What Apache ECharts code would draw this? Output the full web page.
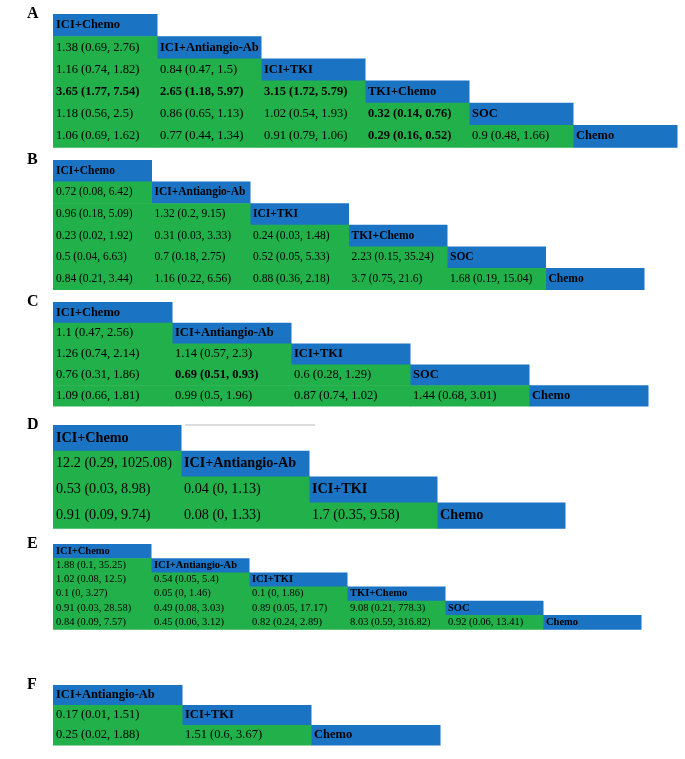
<!DOCTYPE html>
<html>
<head>
<meta charset="utf-8">
<script src="https://cdn.jsdelivr.net/npm/echarts@6/dist/echarts.min.js"></script>
<style>html,body{margin:0;padding:0;background:#fff}#chart{width:685px;height:759px}</style>
</head>
<body>
<div id="chart"></div>
<script>
// treatments for each panel (diagonal headers)
const treatA = ['ICI+Chemo', 'ICI+Antiangio-Ab', 'ICI+TKI', 'TKI+Chemo', 'SOC', 'Chemo'];
const cellsA = [
    ['1.38 (0.69, 2.76)'],
    ['1.16 (0.74, 1.82)', '0.84 (0.47, 1.5)'],
    ['*3.65 (1.77, 7.54)', '*2.65 (1.18, 5.97)', '*3.15 (1.72, 5.79)'],
    ['1.18 (0.56, 2.5)', '0.86 (0.65, 1.13)', '1.02 (0.54, 1.93)', '*0.32 (0.14, 0.76)'],
    ['1.06 (0.69, 1.62)', '0.77 (0.44, 1.34)', '0.91 (0.79, 1.06)', '*0.29 (0.16, 0.52)', '0.9 (0.48, 1.66)']
];
const treatB = ['ICI+Chemo', 'ICI+Antiangio-Ab', 'ICI+TKI', 'TKI+Chemo', 'SOC', 'Chemo'];
const cellsB = [
    ['0.72 (0.08, 6.42)'],
    ['0.96 (0.18, 5.09)', '1.32 (0.2, 9.15)'],
    ['0.23 (0.02, 1.92)', '0.31 (0.03, 3.33)', '0.24 (0.03, 1.48)'],
    ['0.5 (0.04, 6.63)', '0.7 (0.18, 2.75)', '0.52 (0.05, 5.33)', '2.23 (0.15, 35.24)'],
    ['0.84 (0.21, 3.44)', '1.16 (0.22, 6.56)', '0.88 (0.36, 2.18)', '3.7 (0.75, 21.6)', '1.68 (0.19, 15.04)']
];
const treatC = ['ICI+Chemo', 'ICI+Antiangio-Ab', 'ICI+TKI', 'SOC', 'Chemo'];
const cellsC = [
    ['1.1 (0.47, 2.56)'],
    ['1.26 (0.74, 2.14)', '1.14 (0.57, 2.3)'],
    ['0.76 (0.31, 1.86)', '*0.69 (0.51, 0.93)', '0.6 (0.28, 1.29)'],
    ['1.09 (0.66, 1.81)', '0.99 (0.5, 1.96)', '0.87 (0.74, 1.02)', '1.44 (0.68, 3.01)']
];
const treatD = ['ICI+Chemo', 'ICI+Antiangio-Ab', 'ICI+TKI', 'Chemo'];
const cellsD = [
    ['12.2 (0.29, 1025.08)'],
    ['0.53 (0.03, 8.98)', '0.04 (0, 1.13)'],
    ['0.91 (0.09, 9.74)', '0.08 (0, 1.33)', '1.7 (0.35, 9.58)']
];
const treatE = ['ICI+Chemo', 'ICI+Antiangio-Ab', 'ICI+TKI', 'TKI+Chemo', 'SOC', 'Chemo'];
const cellsE = [
    ['1.88 (0.1, 35.25)'],
    ['1.02 (0.08, 12.5)', '0.54 (0.05, 5.4)'],
    ['0.1 (0, 3.27)', '0.05 (0, 1.46)', '0.1 (0, 1.86)'],
    ['0.91 (0.03, 28.58)', '0.49 (0.08, 3.03)', '0.89 (0.05, 17.17)', '9.08 (0.21, 778.3)'],
    ['0.84 (0.09, 7.57)', '0.45 (0.06, 3.12)', '0.82 (0.24, 2.89)', '8.03 (0.59, 316.82)', '0.92 (0.06, 13.41)']
];
const treatF = ['ICI+Antiangio-Ab', 'ICI+TKI', 'Chemo'];
const cellsF = [
    ['0.17 (0.01, 1.51)'],
    ['0.25 (0.02, 1.88)', '1.51 (0.6, 3.67)']
];

const BLUE = '#1b73c4', GREEN = '#22b04b';

// layout per panel: label, treatments, cells, left, top, cell w, cell h, font size
const panels = [
    ['A', treatA, cellsA, 53, 14, 104, 22.2, 12.5],
    ['B', treatB, cellsB, 53, 160, 98.5, 21.6, 11.5],
    ['C', treatC, cellsC, 53, 302, 119, 20.8, 12.5],
    ['D', treatD, cellsD, 53, 425, 128, 25.8, 14.2],
    ['E', treatE, cellsE, 53, 544, 98, 14.2, 10.5],
    ['F', treatF, cellsF, 53, 685, 129, 20, 12.5]
];

const grids = [], xAxes = [], yAxes = [], series = [], texts = [];
panels.forEach((p, i) => {
    const [label, treat, cells, left, top, cw, ch, fs] = p;
    const n = treat.length;
    const idx = treat.map((t, k) => k);
    grids.push({ left: left, top: top, width: cw * n, height: ch * n });
    xAxes.push({ gridIndex: i, type: 'category', data: idx, show: false });
    yAxes.push({ gridIndex: i, type: 'category', data: idx, inverse: true, show: false });
    const data = [];
    treat.forEach((t, k) => data.push([k, k, t, 1, 1]));
    cells.forEach((row, r) => row.forEach((c, k) => {
        const bold = c[0] === '*';
        data.push([k, r + 1, bold ? c.slice(1) : c, bold ? 1 : 0, 0]);
    }));
    series.push({
        type: 'custom', xAxisIndex: i, yAxisIndex: i, data: data, silent: true,
        renderItem: (params, api) => {
            const c = api.coord([api.value(0), api.value(1)]);
            const s = api.size([1, 1]);
            const head = api.value(4) === 1;
            return {
                type: 'group', children: [
                    { type: 'rect', shape: { x: c[0] - s[0] / 2, y: c[1] - s[1] / 2, width: s[0] + 0.5, height: s[1] + 0.5 },
                      style: { fill: head ? BLUE : GREEN } },
                    { type: 'text', x: c[0] - s[0] / 2 + 3, y: c[1],
                      style: { text: data[params.dataIndex][2], fill: '#000', verticalAlign: 'middle',
                               font: (api.value(3) ? 'bold ' : '') + fs + 'px "Liberation Serif"' } }
                ]
            };
        }
    });
    texts.push({ type: 'text', left: 27, top: top - 8, style: { text: label, font: 'bold 16px "Liberation Serif"', fill: '#000' } });
});
texts.push({ type: 'line', shape: { x1: 185, y1: 425, x2: 315, y2: 425 }, style: { stroke: '#bbb', lineWidth: 1 } });

const chart = echarts.init(document.getElementById('chart'));
chart.setOption({
    animation: false,
    grid: grids, xAxis: xAxes, yAxis: yAxes, series: series,
    graphic: texts
});
</script>
</body>
</html>
